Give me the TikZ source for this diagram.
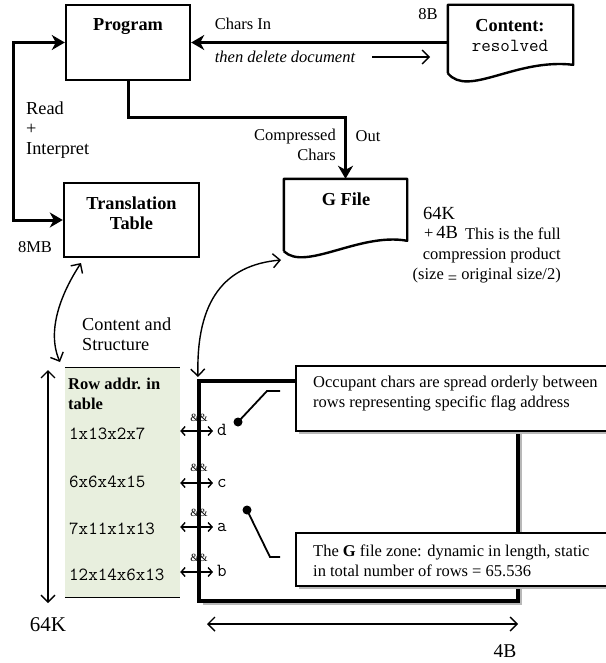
\documentclass[tikz,border=0pt]{standalone}
\usepackage{fontspec}
\setmainfont{Liberation Serif}
\usetikzlibrary{arrows.meta,calc,positioning,shadows}
\definecolor{addrgreen}{RGB}{232,239,222}
\def\diagsize{\fontsize{16.5}{20}\selectfont}
\def\bigsize{\fontsize{18.3}{20}\selectfont}
\def\monosize{\fontsize{18.5}{20}\selectfont\ttfamily}
\tikzset{
	bigtip/.tip={Stealth[length=13pt,width=15pt,inset=4pt]},
	barb/.tip={Straight Barb[length=7pt,width=14pt]},
	smallbarb/.tip={Straight Barb[length=4pt,width=9pt]},
	flowbox/.style={draw, line width=2.4pt},
	boxtitle/.style={font=\bigsize\bfseries},
	docline/.style={line width=2.4pt, line join=round},
	flowline/.style={line width=3pt},
	thinline/.style={line width=1.4pt},
	zonebox/.style={draw, line width=3.5pt, fill=white, drop shadow={shadow xshift=3.5pt, shadow yshift=-3.5pt, fill=black!28, opacity=1}},
	notebox/.style={draw, line width=1.8pt, fill=white, drop shadow={shadow xshift=3pt, shadow yshift=-3pt, fill=black!28, opacity=1}},
	leader/.style={line width=1.8pt},
	rowaddr/.style={anchor=west, font=\monosize},
	flag/.style={anchor=west, font=\monosize, text height=8pt, text depth=0pt},
	andand/.style={font=\fontsize{11}{11}\selectfont}
}
\begin{document}
\begin{tikzpicture}[x=1pt, y=-1pt, inner sep=0pt, font=\diagsize]
			\useasboundingbox (0,0) rectangle (605,663);
			%%%%% START %%%%%
			
			% program and content
			\node[flowbox, minimum width=124pt, minimum height=75pt] (program) at (128,42.5) {};
			\node[boxtitle] (programtxt) at (128,27) {Program};
			\node[minimum width=125pt, minimum height=68pt] (content) at (510.5,39) {};
			\draw[docline] (content.south west) -- (content.north west) -- (content.north east) -- ($(content.north east)+(0,60)$) .. controls (515,58) and (468,98) .. (content.south west);
			\node[boxtitle] (contenttxt) at (510,26) {Content:};
			\node[font=\monosize] (resolved) at (510,46) {resolved};
			\node (eightb) at (428,14) {8B};
			\draw[flowline, -bigtip] (content.west |- program.east) -- (program.east);
			\node (charsin) at (243,24) {Chars In};
			\node[font=\diagsize\itshape] (deldoc) at (285,57) {then delete document};
			\coordinate (delfrom) at (372,57);
			\coordinate (delto) at (430,57);
			\draw[thinline, -barb] (delfrom) -- (delto);
			
			% translation table
			\node[flowbox, minimum width=135pt, minimum height=74pt] (table) at (131.5,220) {};
			\node[boxtitle, align=center] (tabletxt) at (131.5,213) {Translation\\Table};
			\draw[flowline, bigtip-bigtip] (program.west) -- ++(-51,0) |- (table.west);
			\node[font=\bigsize, align=left, anchor=west] (readlbl) at (26,130) {Read\\+\\Interpret};
			\node (eightmb) at (35,247) {8MB};
			
			% g file
			\node[minimum width=123pt, minimum height=72pt] (gfile) at (345.5,215) {};
			\draw[docline] (gfile.south west) -- (gfile.north west) -- (gfile.north east) -- ($(gfile.north east)+(0,62)$) .. controls (360,232) and (305,272) .. (gfile.south west);
			\node[boxtitle] (gfiletxt) at (346,199) {G File};
			\draw[flowline, -bigtip] (program.south) -- ++(0,36) -| (gfile.north);
			\node[align=right, anchor=east] (compchars) at (336,145) {Compressed\\Chars};
			\node (outlbl) at (368,136) {Out};
			\node[font=\fontsize{18.5}{20}\selectfont] (sixtyfourk) at (439,213) {64K};
			\node[font=\fontsize{18.5}{20}\selectfont] (plusfourb) at (441,232) {{\diagsize+}\,4B};
			\node[align=right, anchor=east] (fullnote) at (561,256) {This is the full\\compression product\\(size \raisebox{-4pt}{=} original size/2)};
			
			% curved links
			\coordinate (tabcurve) at (81,263);
			\coordinate (addrcurve) at (60,362);
			\draw[thinline, barb-barb] (tabcurve) .. controls (62,292) and (46,330) .. (addrcurve);
			\node[font=\bigsize, align=left, anchor=west] (contstruct) at (82,334) {Content and\\Structure};
			\coordinate (gfcurve) at (281,260);
			\coordinate (zonecurve) at (198,377);
			\draw[thinline, barb-barb] (gfcurve) .. controls (225,265) and (196,300) .. (zonecurve);
			
			% row address table
			\node[fill=addrgreen, minimum width=115pt, minimum height=229pt] (addrtab) at (122.5,482.5) {};
			\draw[line width=1pt] (addrtab.north west) -- (addrtab.north east);
			\draw[line width=1pt] (addrtab.south west) -- (addrtab.south east);
			\node[font=\diagsize\bfseries, align=left, anchor=west] (addrhead) at (68,394) {Row addr. in\\table};
			\node[rowaddr] (rowd) at (69,434) {1x13x2x7};
			\node[rowaddr] (rowc) at (69,482) {6x6x4x15};
			\node[rowaddr] (rowa) at (69,529) {7x11x1x13};
			\node[rowaddr] (rowb) at (69,575) {12x14x6x13};
			
			% g file zone
			\node[zonebox, minimum width=319pt, minimum height=220pt] (gzone) at (358.5,491) {};
			\node[notebox, minimum width=320pt, minimum height=65pt, anchor=north west] (topnote) at (295,365) {};
			\node[notebox, minimum width=320pt, minimum height=53pt, anchor=north west] (botnote) at (295,532) {};
			\node[align=left, anchor=west] (toptxt) at (313,394) {Occupant chars are spread orderly between\\rows representing specific flag address};
			\node[align=left, anchor=west] (bottxt) at (313,561) {The \textbf{G} file zone: dynamic in length, static\\in total number of rows = 65.536};
			
			\node[flag] (flagd) at (217,431) {d};
			\node[flag] (flagc) at (217,483) {c};
			\node[flag] (flaga) at (217,527) {a};
			\node[flag] (flagb) at (217,572) {b};
			\draw[thinline, smallbarb-smallbarb, shorten >=4pt] (addrtab.east |- flagd) -- (flagd.west);
			\draw[thinline, smallbarb-smallbarb, shorten >=4pt] (addrtab.east |- flagc) -- (flagc.west);
			\draw[thinline, smallbarb-smallbarb, shorten >=4pt] (addrtab.east |- flaga) -- (flaga.west);
			\draw[thinline, smallbarb-smallbarb, shorten >=4pt] (addrtab.east |- flagb) -- (flagb.west);
			\node[andand] (andd) at (199,418) {\&\&};
			\node[andand] (andc) at (199,468) {\&\&};
			\node[andand] (anda) at (199,513) {\&\&};
			\node[andand] (andb) at (199,558) {\&\&};
			
			\coordinate (topdot) at (238,422);
			\coordinate (topknee) at (267,391);
			\coordinate (topend) at (280,391);
			\fill (topdot) circle (4.5);
			\draw[leader] (topdot) -- (topknee) -- (topend);
			\coordinate (botdot) at (247,510);
			\coordinate (botknee) at (270,557);
			\coordinate (botend) at (280,557);
			\fill (botdot) circle (4.5);
			\draw[leader] (botdot) -- (botknee) -- (botend);
			
			% sizes
			\coordinate (depthtop) at (48,370);
			\coordinate (depthbot) at (48,603);
			\draw[thinline, barb-barb] (depthtop) -- (depthbot);
			\node[font=\fontsize{21}{22}\selectfont] (depthlbl) at (48,625) {64K};
			\coordinate (widthl) at (207,624);
			\coordinate (widthr) at (518,624);
			\draw[thinline, barb-barb] (widthl) -- (widthr);
			\node[font=\fontsize{19.5}{20}\selectfont] (widthlbl) at (505,651) {4B};
			
			%%%%% END %%%%%
\end{tikzpicture}
\end{document}
